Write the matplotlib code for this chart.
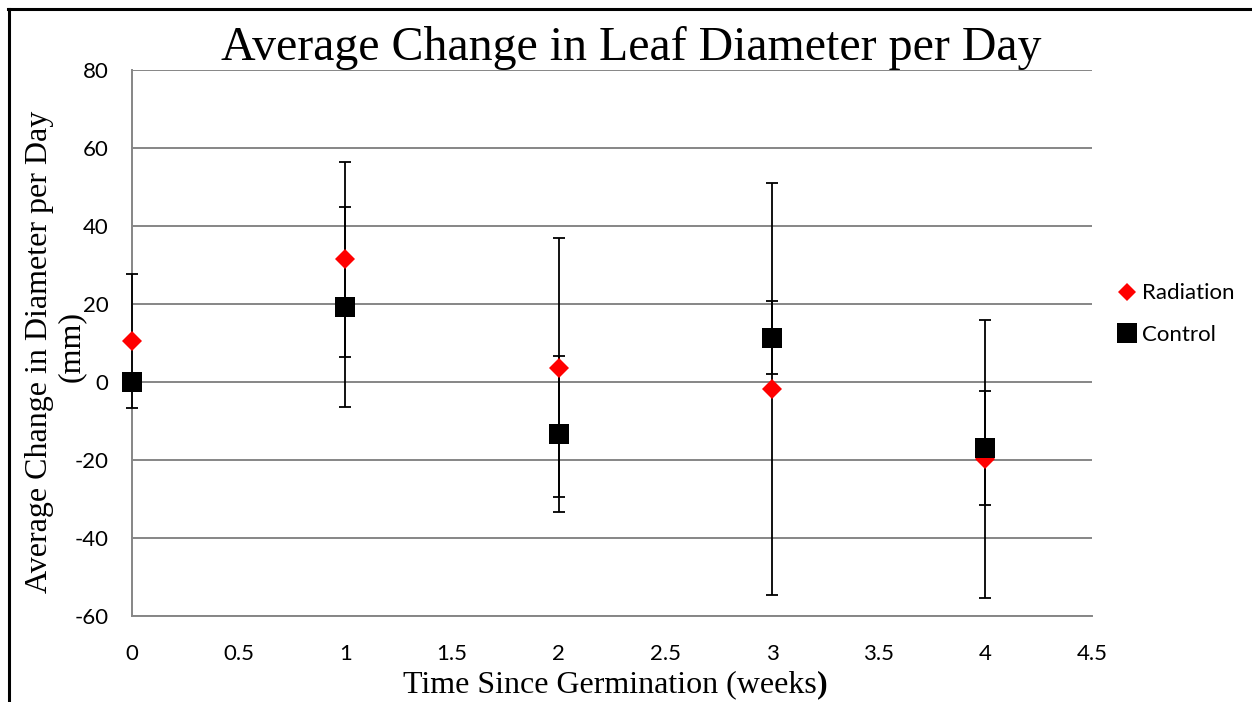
import matplotlib
matplotlib.use("Agg")
import matplotlib.pyplot as plt
from matplotlib.lines import Line2D

# data
weeks = [0, 1, 2, 3, 4]
radiation = [10.5, 31.5, 3.7, -1.9, -19.7]
radiation_err = [17.2, 25.0, 33.2, 52.8, 35.6]
control = [0.0, 19.2, -13.3, 11.4, -16.9]
control_err = [0.0, 25.7, 20.0, 9.4, 14.6]

plt.rcParams["axes.unicode_minus"] = False

serif = "Liberation Serif"
sans = "Lato"
grid_col = "#868686"

fig = plt.figure(figsize=(12.52, 7.02), dpi=100)
ax = fig.add_axes([132 / 1252, 86 / 702, 960 / 1252, 546 / 702])

# error bars first, markers on top
ax.errorbar(weeks, radiation, yerr=radiation_err, fmt="none", ecolor="black",
            elinewidth=1.3, capsize=4.3, capthick=1.3, zorder=3)
ax.errorbar(weeks, control, yerr=control_err, fmt="none", ecolor="black",
            elinewidth=1.3, capsize=4.3, capthick=1.3, zorder=3)
ax.plot(weeks, radiation, linestyle="none", marker="D", ms=10, color="#ff0000",
        markeredgewidth=0, zorder=4, label="Radiation")
ax.plot(weeks, control, linestyle="none", marker="s", ms=14.5, color="black",
        markeredgewidth=0, zorder=5, label="Control")
for art in ax.lines + ax.collections:
    art.set_clip_on(False)

ax.set_xlim(0, 4.5)
ax.set_ylim(-60, 80)
ax.set_xticks([0, 0.5, 1, 1.5, 2, 2.5, 3, 3.5, 4, 4.5])
ax.set_xticklabels(["0", "0.5", "1", "1.5", "2", "2.5", "3", "3.5", "4", "4.5"])
ax.set_yticks(range(-60, 81, 20))
ax.yaxis.grid(True, color=grid_col, linewidth=1.4)
ax.set_axisbelow(True)
for s in ["top", "right"]:
    ax.spines[s].set_visible(False)
for s in ["left", "bottom"]:
    ax.spines[s].set_color(grid_col)
    ax.spines[s].set_linewidth(1.4)
ax.tick_params(length=0, labelsize=16)
ax.tick_params(axis="x", pad=20)
ax.tick_params(axis="y", pad=17)
for lab in ax.get_xticklabels() + ax.get_yticklabels():
    lab.set_fontfamily(sans)

fig.text(0.504, 0.932, "Average Change in Leaf Diameter per Day", ha="center",
         va="center", fontsize=34.5, family=serif)
# y label, two lines as separate texts
fig.text(40 / 1252, 350 / 702, "Average Change in Diameter per Day",
         rotation=90, ha="center", va="center", fontsize=23, family=serif)
fig.text(71 / 1252, 355 / 702, "(mm)",
         rotation=90, ha="center", va="center", fontsize=23, family=serif)

# x label with the bold closing bracket
xl = fig.text(0.487, 0.024, "Time Since Germination (weeks", ha="center",
              va="center", fontsize=23, family=serif)
fig.canvas.draw()
bb = xl.get_window_extent()
fig.text(bb.x1 / fig.dpi / 12.52, 0.024, ")", ha="left", va="center",
         fontsize=23, family=serif, fontweight="bold")

leg = fig.legend(loc="center left", bbox_to_anchor=(1100 / 1252, 1 - 314 / 702),
                 frameon=False, prop={"family": sans, "size": 16},
                 handlelength=0.6, handletextpad=0.4, labelspacing=0.95,
                 markerscale=0.95)

# outer border (only top and left visible in the reference)
fig.add_artist(Line2D([8 / 1252, 1.0], [1 - 8.5 / 702, 1 - 8.5 / 702],
                      transform=fig.transFigure, color="black", linewidth=2.2))
fig.add_artist(Line2D([8.5 / 1252, 8.5 / 1252], [0, 1 - 8.5 / 702],
                      transform=fig.transFigure, color="black", linewidth=2.2))

fig.savefig("out.png", dpi=100)
